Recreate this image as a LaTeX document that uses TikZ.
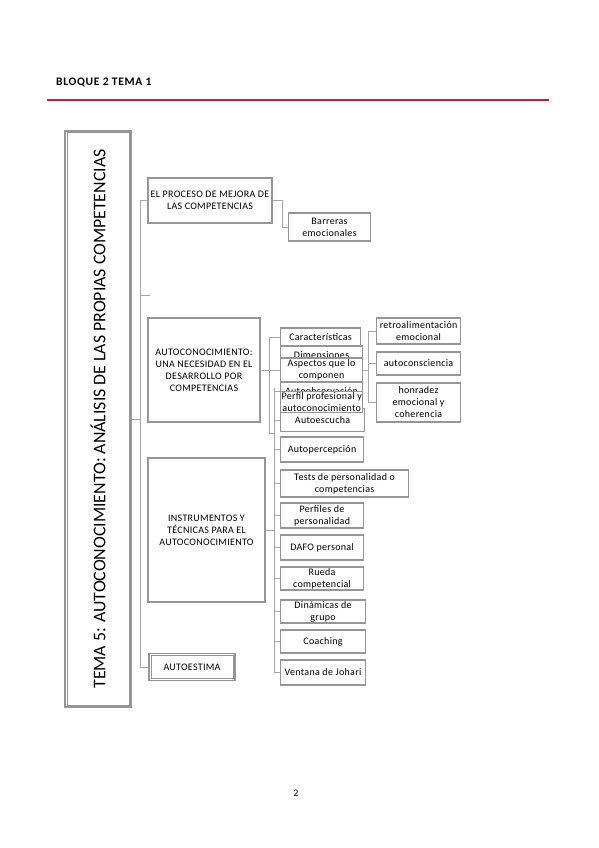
\documentclass[tikz,border=0pt]{standalone}
\usepackage{fontspec}
\setmainfont{Carlito}
\newfontfamily\boxfont[LetterSpace=3]{Carlito}
\newfontfamily\headfont[LetterSpace=6]{Carlito}
\usepackage{tikz}
\usetikzlibrary{positioning, calc}
\definecolor{boxgray}{RGB}{150,150,150}
\definecolor{linegray}{RGB}{165,165,165}
\definecolor{headred}{RGB}{196,32,60}

\begin{document}
\begin{tikzpicture}[x=1pt, y=-1pt,
    box/.style={draw=boxgray, line width=1.1pt, fill=white, align=center, inner sep=1pt,
        font=\boxfont\fontsize{10}{12}\selectfont},
    item/.style={box, anchor=west},
    frame/.style={draw=boxgray, line width=0.9pt},
    link/.style={draw=linegray, line width=1pt}]
    \useasboundingbox (0,0) rectangle (599,848);

    % Header
    \node[anchor=west, inner sep=0pt, font=\headfont\bfseries\fontsize{11.5}{14}\selectfont] (H) at (56,82) {BLOQUE 2 TEMA 1};
    \coordinate (R1) at (47,100);
    \coordinate (R2) at (549,100);
    \draw[headred, line width=1.5pt] (R1) -- (R2);

    % Nodes
    \node[box, minimum width=66pt, minimum height=576pt] (T) at (98,419) {};
    \node[rotate=90, inner sep=0pt, font=\fontsize{17.8}{20}\selectfont] (Tt) at (T.center)
        {TEMA 5: AUTOCONOCIMIENTO: ANÁLISIS DE LAS PROPIAS COMPETENCIAS};

    \node[box, minimum width=124pt, minimum height=45pt] (P) at (210,200.5) {EL PROCESO DE MEJORA DE\\LAS COMPETENCIAS};
    \node[item, minimum width=82pt, minimum height=28pt] (Ba) at (288,227) {Barreras\\emocionales};

    \node[box, minimum width=112pt, minimum height=104pt] (AC) at (204,370) {AUTOCONOCIMIENTO:\\UNA NECESIDAD EN EL\\DESARROLLO POR\\COMPETENCIAS};
    \node[item, minimum width=80pt, minimum height=18pt] (C1) at (280,337) {Características};
    \node[item, minimum width=82pt, minimum height=18pt] (C2) at (280,355) {Dimensiones};
    \node[item, minimum width=82pt, minimum height=24pt] (C3) at (280,370) {Aspectos que lo\\componen};
    \node[item, minimum width=82pt, minimum height=18pt] (C4) at (280,391) {Autoobservación};
    \node[item, minimum width=84pt, minimum height=23pt] (C6) at (280,420) {Autoescucha};
    \node[item, minimum width=82pt, minimum height=21pt] (C5) at (280,402) {Perfil profesional y\\autoconocimiento};
    \node[item, minimum width=83pt, minimum height=25pt] (C7) at (280,449.5) {Autopercepción};

    \node[item, minimum width=84pt, minimum height=26pt] (E1) at (376,331) {retroalimentación\\emocional};
    \node[item, minimum width=84pt, minimum height=23pt] (E2) at (376,363.5) {autoconsciencia};
    \node[item, minimum width=84pt, minimum height=39pt] (E3) at (376,402.5) {honradez\\emocional y\\coherencia};

    \node[box, minimum width=117pt, minimum height=144pt] (IT) at (206.5,530) {INSTRUMENTOS Y\\TÉCNICAS PARA EL\\AUTOCONOCIMIENTO};
    \node[item, minimum width=128pt, minimum height=27pt] (I1) at (280,483.5) {Tests de personalidad o\\competencias};
    \node[item, minimum width=83pt, minimum height=25pt] (I2) at (280,515.5) {Perfiles de\\personalidad};
    \node[item, minimum width=83pt, minimum height=25pt] (I3) at (280,547.5) {DAFO personal};
    \node[item, minimum width=83pt, minimum height=23pt] (I4) at (280,578.5) {Rueda\\competencial};
    \node[item, minimum width=85pt, minimum height=23pt] (I5) at (280,611.5) {Dinámicas de\\grupo};
    \node[item, minimum width=85pt, minimum height=23pt] (I6) at (280,641.5) {Coaching};
    \node[item, minimum width=85pt, minimum height=25pt] (I7) at (280,672.5) {Ventana de Johari};

    \node[box, minimum width=86pt, minimum height=27pt] (AE) at (192,667) {AUTOESTIMA};

    \node[font=\fontsize{10}{12}\selectfont] (N) at (296,793) {2};

    % Inner frames
    \draw[frame] ([shift={(2.5pt,-2.5pt)}]T.north west) rectangle ([shift={(-2.5pt,2.5pt)}]T.south east);
    \draw[frame] ([shift={(3pt,-2.5pt)}]AE.north west) rectangle ([shift={(-2.5pt,2.5pt)}]AE.south east);

    % Edges
    \coordinate (S0) at (141,419);
    \coordinate (S2) at (141,295);
    \coordinate (S3) at (150,295);
    \draw[link] (T.east) -- (S0);
    \draw[link] (P.west) -- ++(-7,0) coordinate (S1) -- (S1 |- AE.west) -- (AE.west);
    \draw[link] (S2) -- (S3);
    \draw[link] (P.east) -- ++(10,0) |- (Ba.west);

    \coordinate (A1) at (269,337);
    \coordinate (A2) at (269,433);
    \coordinate (B1) at (274,388);
    \draw[link] (A1) -- (A2) -- (A2 -| B1);
    \draw[link] (A1) -- (C1.west);
    \draw[link] (AC.east) -- (C3.west);
    \draw[link] (B1) -- (B1 |- I7.west) -- (I7.west);
    \draw[link] (IT.east) -- (IT.east -| B1);
    \foreach \n in {C4, C6, C7, I1, I2, I3, I4, I5, I6}
        \draw[link] (B1 |- \n.west) -- (\n.west);

    \coordinate (D1) at (368,331);
    \draw[link] (C3.east) -- (C3.east -| D1);
    \draw[link] (E1.west) -- (D1) -- (D1 |- E3.west) -- (E3.west);
    \draw[link] (E2.west) -- (E2.west -| D1);
\end{tikzpicture}
\end{document}
